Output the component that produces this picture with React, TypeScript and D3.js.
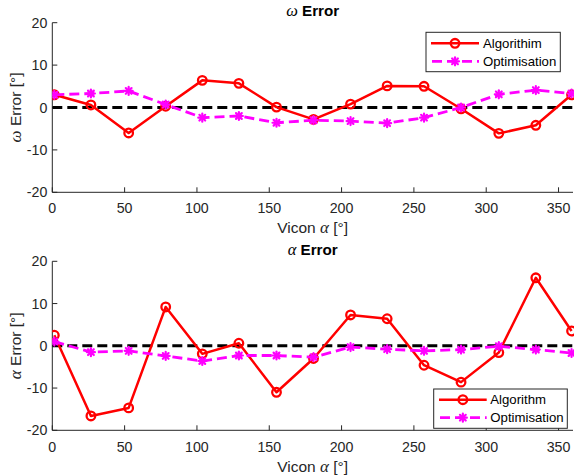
import React from "react";
import * as d3 from "d3";

const xVals = [1.4, 26.7, 52.8, 78.4, 103.7, 129, 155, 180.6, 206.2, 231.5, 257, 282.6, 308.7, 334.3, 359];
const omegaAlg = [3.0, 0.6, -6.0, 0.3, 6.4, 5.7, 0.1, -2.8, 0.8, 5.1, 5.0, -0.3, -6.1, -4.2, 3.0];
const omegaOpt = [3.0, 3.3, 3.9, 0.7, -2.4, -2.0, -3.6, -3.0, -3.2, -3.7, -2.4, 0.0, 3.1, 4.1, 3.3];
const alphaAlg = [2.5, -16.6, -14.7, 9.2, -1.9, 0.6, -11.0, -3.0, 7.3, 6.4, -4.6, -8.6, -1.6, 16.1, 3.5];
const alphaOpt = [1.0, -1.5, -1.2, -2.4, -3.6, -2.3, -2.3, -2.7, -0.3, -0.8, -1.2, -0.9, -0.1, -0.9, -1.7];
const xTicks = [0, 50, 100, 150, 200, 250, 300, 350];
const yTicks = [-20, -10, 0, 10, 20];

const W = 574;
const H = 476;
const AX = "#262626";
const FONT = "'Liberation Sans', Arial, Helvetica, sans-serif";
const RED = "#ff0000";
const MAG = "#ff00ff";

function Asterisk({ x, y, s = 4 }: { x: number; y: number; s?: number }) {
  const d = s * 0.72;
  return (
    <g stroke={MAG} strokeWidth={2.2} strokeLinecap="round">
      <line x1={x - s} y1={y} x2={x + s} y2={y} />
      <line x1={x} y1={y - s} x2={x} y2={y + s} />
      <line x1={x - d} y1={y - d} x2={x + d} y2={y + d} />
      <line x1={x - d} y1={y + d} x2={x + d} y2={y - d} />
    </g>
  );
}

function Panel({
  top,
  bottom,
  greek,
  alg,
  opt,
  algLabel,
  titleY,
  xLabelY,
  tickLabelY,
  legend,
}: {
  top: number;
  bottom: number;
  greek: string;
  alg: number[];
  opt: number[];
  algLabel: string;
  titleY: number;
  xLabelY: number;
  tickLabelY: number;
  legend: { x0: number; x1: number; y0: number; y1: number; lx0: number; lx1: number; tx: number; r1: number; r2: number };
}) {
  const left = 52.3;
  const right = 573;
  const x = d3.scaleLinear().domain([0, 360]).range([left, right]);
  const y = d3.scaleLinear().domain([-20, 20]).range([bottom, top]);
  const line = d3
    .line<number>()
    .x((_, i) => x(xVals[i]))
    .y((v) => y(v));
  const cx = (left + right) / 2;
  const mx = (legend.lx0 + legend.lx1) / 2;
  return (
    <g>
      <defs>
        <clipPath id={`clip-${greek}`}>
          <rect x={left} y={top - 10} width={right - left + 10} height={bottom - top + 20} />
        </clipPath>
      </defs>
      <line x1={left} y1={top} x2={left} y2={bottom} stroke={AX} strokeWidth={1} />
      <line x1={left} y1={bottom} x2={right} y2={bottom} stroke={AX} strokeWidth={1} />
      {yTicks.map((t) => (
        <g key={`y${t}`}>
          <line x1={left} x2={left + 5} y1={y(t)} y2={y(t)} stroke={AX} />
          <text x={left - 5} y={y(t)} dy="0.36em" textAnchor="end" fontSize={14.2} fill={AX} fontFamily={FONT}>
            {t}
          </text>
        </g>
      ))}
      {xTicks.map((t) => (
        <g key={`x${t}`}>
          <line x1={x(t)} x2={x(t)} y1={bottom} y2={bottom - 5} stroke={AX} />
          <text x={x(t)} y={tickLabelY} textAnchor="middle" fontSize={14.2} fill={AX} fontFamily={FONT}>
            {t}
          </text>
        </g>
      ))}
      <text x={cx} y={titleY} textAnchor="middle" fontSize={15.2} fontWeight="bold" fill="#000" fontFamily={FONT}>
        <tspan fontFamily="'Liberation Serif', serif" fontStyle="italic" fontWeight="normal" fontSize={16.5}>
          {greek}
        </tspan>
        <tspan> Error</tspan>
      </text>
      <text x={cx} y={xLabelY} textAnchor="middle" fontSize={15.5} fill={AX} fontFamily={FONT}>
        <tspan>Vicon </tspan>
        <tspan fontFamily="'Liberation Serif', serif" fontStyle="italic" fontSize={17}>
          α
        </tspan>
        <tspan> [°]</tspan>
      </text>
      <text
        transform={`translate(21,${(top + bottom) / 2}) rotate(-90)`}
        textAnchor="middle"
        fontSize={15.5}
        fill={AX}
        fontFamily={FONT}
      >
        <tspan fontFamily="'Liberation Serif', serif" fontStyle="italic" fontSize={17}>
          {greek}
        </tspan>
        <tspan> Error [°]</tspan>
      </text>
      <g clipPath={`url(#clip-${greek})`}>
        <line x1={x(0)} x2={x(360)} y1={y(0)} y2={y(0)} stroke="#000" strokeWidth={3} strokeDasharray="10,5" />
        <path d={line(alg) || ""} fill="none" stroke={RED} strokeWidth={2.5} strokeLinejoin="round" />
        {alg.map((v, i) => (
          <circle key={i} cx={x(xVals[i])} cy={y(v)} r={4.3} fill="none" stroke={RED} strokeWidth={2.3} />
        ))}
        <path d={line(opt) || ""} fill="none" stroke={MAG} strokeWidth={2.8} strokeDasharray="10,5" />
        {opt.map((v, i) => (
          <Asterisk key={i} x={x(xVals[i])} y={y(v)} />
        ))}
      </g>
      <rect
        x={legend.x0}
        y={legend.y0}
        width={legend.x1 - legend.x0}
        height={legend.y1 - legend.y0}
        fill="#fff"
        stroke={AX}
        strokeWidth={1}
      />
      <line x1={legend.lx0} x2={legend.lx1} y1={legend.r1} y2={legend.r1} stroke={RED} strokeWidth={2.5} />
      <circle cx={mx} cy={legend.r1} r={4.3} fill="none" stroke={RED} strokeWidth={2.3} />
      <text x={legend.tx} y={legend.r1} dy="0.36em" fontSize={13.2} fill="#000" fontFamily={FONT}>
        {algLabel}
      </text>
      <line
        x1={legend.lx0}
        x2={legend.lx1}
        y1={legend.r2}
        y2={legend.r2}
        stroke={MAG}
        strokeWidth={2.8}
        strokeDasharray="10,5"
        strokeDashoffset={-1}
      />
      <Asterisk x={mx} y={legend.r2} />
      <text x={legend.tx} y={legend.r2} dy="0.36em" fontSize={13.2} fill="#000" fontFamily={FONT}>
        Optimisation
      </text>
    </g>
  );
}

export default function App() {
  return (
    <svg
      width={W}
      height={H}
      viewBox={`0 0 ${W} ${H}`}
      style={{ position: "fixed", left: 0, top: 0, background: "#fff" }}
    >
      <rect x={0} y={0} width={W} height={H} fill="#fff" />
      <Panel
        top={22.7}
        bottom={192.3}
        greek="ω"
        alg={omegaAlg}
        opt={omegaOpt}
        algLabel="Algorithim"
        titleY={16}
        xLabelY={232.5}
        tickLabelY={212.5}
        legend={{ x0: 426, x1: 560.3, y0: 32.3, y1: 71.7, lx0: 431, lx1: 479, tx: 483, r1: 43.3, r2: 61.3 }}
      />
      <Panel
        top={261.3}
        bottom={430.3}
        greek="α"
        alg={alphaAlg}
        opt={alphaOpt}
        algLabel="Algorithm"
        titleY={255}
        xLabelY={471.5}
        tickLabelY={451.5}
        legend={{ x0: 433.7, x1: 567.3, y0: 389, y1: 428.3, lx0: 439, lx1: 486.7, tx: 490.3, r1: 399.7, r2: 417.7 }}
      />
    </svg>
  );
}
